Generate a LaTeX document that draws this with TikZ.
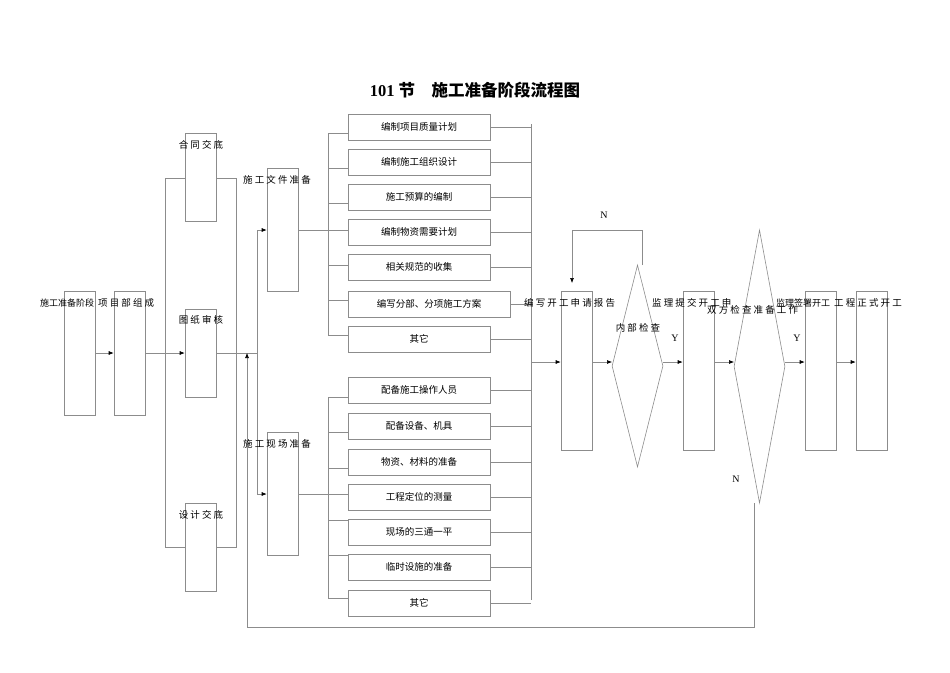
\documentclass[tikz,border=0pt]{standalone}
\usepackage{fontspec}
\setmainfont{Liberation Serif}
\newfontfamily\cjk{Noto Sans CJK SC}
\usetikzlibrary{arrows.meta,shapes.geometric}
\begin{document}
\begin{tikzpicture}[x=1pt,y=-1pt,
  ln/.style={draw=black!45,line width=0.6pt},
  bx/.style={ln,fill=white,minimum width=31pt,inner sep=0pt},
  item/.style={ln,fill=white,minimum width=142pt,minimum height=26pt,inner sep=0pt,font=\cjk\fontsize{9.5}{11}\selectfont},
  lbl/.style={font=\cjk\fontsize{9.5}{11}\selectfont,inner sep=0pt},
  tight/.style={font=\cjk\fontsize{9}{11}\selectfont,inner sep=0pt},
  lt/.style={font=\fontsize{10}{12}\selectfont,inner sep=0pt},
  ar/.style={ln,-{Latex[length=5pt,width=4pt,black]}},
  dm/.style={ln,diamond,aspect=0.25,fill=white,inner sep=0pt}]
\useasboundingbox (0,0) rectangle (950,672);
\node[font=\cjk\bfseries\fontsize{16.5}{19}\selectfont] (title) at (475,90) {\textbf{\fontspec{Liberation Serif}101} 节\quad 施工准备阶段流程图};
% bracket of contract/drawing/design
\draw[ln] (165,178) rectangle (236,547);
\node[bx,minimum height=124pt] (a) at (79.5,353) {};
\node[bx,minimum height=124pt] (b) at (129.5,353) {};
\node[bx,minimum height=88pt] (c1) at (200.5,177) {};
\node[bx,minimum height=88pt] (c2) at (200.5,353) {};
\node[bx,minimum height=88pt] (c3) at (200.5,547) {};
\draw[ar] (a.east) -- (b.west);
\draw[ar] (b.east) -- (c2.west);
% docs / site
\node[bx,minimum height=123pt] (d) at (282.5,230) {};
\node[bx,minimum height=123pt] (s) at (282.5,494) {};
\coordinate (j) at (257,353);
\draw[ln] (c2.east) -- (j);
\draw[ar] (j) |- (d.west);
\draw[ar] (j) |- (s.west);
% upper list
\draw[ln] (328,133) -- (328,335);
\draw[ln] (d.east) -- (328,230);
\foreach \y in {133,168,203,265,300,335} \draw[ln] (328,\y) -- (348,\y);
\draw[ln] (328,230) -- (348,230);
\draw[ln] (531,124) -- (531,600);
\foreach \n/\y/\t in {u1/127/编制项目质量计划,u2/162/编制施工组织设计,u3/197/施工预算的编制,u4/232/编制物资需要计划,u5/267/相关规范的收集,u7/339/其它}
  {\node[item] (\n) at (419,\y) {\t}; \draw[ln] (\n.east) -- (531,\y);}
\node[item,minimum width=162pt] (u6) at (429,304) {编写分部、分项施工方案};
\draw[ln] (u6.east) -- (531,304);
% lower list
\draw[ln] (328,397) -- (328,598);
\draw[ln] (s.east) -- (328,494);
\foreach \y in {397,432,468,494,520,555,598} \draw[ln] (328,\y) -- (348,\y);
\foreach \n/\y/\t in {l1/390/配备施工操作人员,l2/426/配备设备、机具,l3/462/物资、材料的准备,l4/497/工程定位的测量,l5/532/现场的三通一平,l6/567/临时设施的准备,l7/603/其它}
  {\node[item] (\n) at (419,\y) {\t}; \draw[ln] (\n.east) -- (531,\y);}
% main chain
\node[bx,minimum height=159pt] (e) at (576.5,370.5) {};
\coordinate (m) at (531,362);
\draw[ar] (m) -- (e.west |- m);
\node[dm,minimum width=51pt,minimum height=202pt] (q1) at (637.5,366) {};
\draw[ar] (e.east |- m) -- (612,362);
\node[bx,minimum height=159pt] (f) at (698.5,370.5) {};
\draw[ar] (663,362) -- (f.west |- m);
\node[dm,minimum width=51pt,minimum height=273pt] (q2) at (759.5,366.5) {};
\draw[ar] (f.east |- m) -- (734,362);
\node[bx,minimum height=159pt] (g) at (820.5,370.5) {};
\draw[ar] (785,362) -- (g.west |- m);
\node[bx,minimum height=159pt] (h) at (871.5,370.5) {};
\draw[ar] (g.east |- m) -- (h.west |- m);
% feedback loops
\coordinate (n1) at (642,230);
\draw[ar] (642,265) -- (n1) -| (572,283);
\coordinate (n2a) at (754,627);
\coordinate (n2b) at (247,627);
\draw[ar] (754,503) -- (n2a) -- (n2b) -- (247,353);
% labels
\node[lt] (N1) at (604,215) {N};
\node[lt] (Y1) at (675,338) {Y};
\node[lt] (Y2) at (797,338) {Y};
\node[lt] (N2) at (736,479) {N};
\node[tight,anchor=west] (t1) at (40,303) {施工准备阶段};
\node[lbl,anchor=west] (t2) at (98,303) {项 目 部 组 成};
\node[lbl] (t3) at (201,145) {合 同 交 底};
\node[lbl] (t4) at (201,320) {图 纸 审 核};
\node[lbl] (t5) at (201,515) {设 计 交 底};
\node[lbl,anchor=west] (t6) at (243,180) {施 工 文 件 准 备};
\node[lbl,anchor=west] (t7) at (243,444) {施 工 现 场 准 备};
\node[lbl,anchor=west] (t8) at (524,303) {编 写 开 工 申 请 报 告};
\node[lbl] (t9) at (638,328) {内 部 检 查};
\node[lbl,anchor=west] (t10) at (652,303) {监 理 提 交 开 工 申};
\node[lbl,anchor=west] (t11) at (707,310) {双 方 检 查 准 备 工 作};
\node[tight,anchor=west] (t12) at (776,303) {监理签署开工};
\node[lbl,anchor=west] (t13) at (834,303) {工 程 正 式 开 工};
\end{tikzpicture}
\end{document}
